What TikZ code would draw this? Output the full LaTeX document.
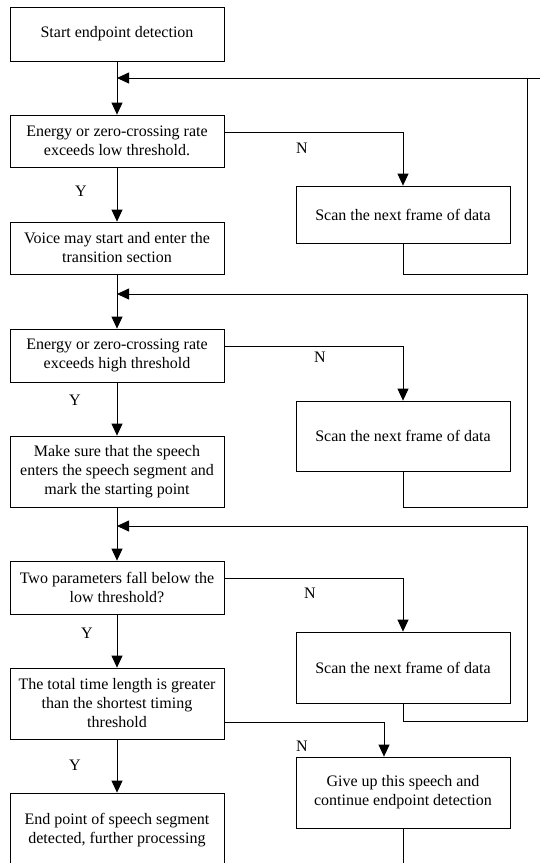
\documentclass[tikz,border=0pt]{standalone}
\usepackage{fontspec}
\setmainfont{Liberation Serif}
\usetikzlibrary{arrows.meta}
\begin{document}
\begin{tikzpicture}[x=1pt,y=-1pt,
  box/.style={draw, line width=0.8pt, minimum width=214pt, align=center, inner sep=0pt, font=\fontsize{16}{19}\selectfont},
  lbl/.style={font=\fontsize{16}{19}\selectfont, inner sep=0pt},
  conn/.style={line width=0.8pt},
  arr/.style={conn, -{Triangle[length=12pt,width=11pt]}}]
\useasboundingbox (0,0) rectangle (540,863);
\clip (0,0) rectangle (540,863);
% boxes
\node[box, minimum height=54pt] (b1) at (117,34) {Start endpoint detection};
\node[box, minimum height=52pt] (b2) at (117,141) {Energy or zero-crossing rate\\exceeds low threshold.};
\node[box, minimum height=57pt] (s1) at (403,214.5) {Scan the next frame of data};
\node[box, minimum height=52pt] (b3) at (117,248) {Voice may start and enter the\\transition section};
\node[box, minimum height=53pt] (b4) at (117,355.5) {Energy or zero-crossing rate\\exceeds high threshold};
\node[box, minimum height=70pt] (s2) at (403,436) {Scan the next frame of data};
\node[box, minimum height=71pt] (b5) at (117,471.5) {Make sure that the speech\\enters the speech segment and\\mark the starting point};
\node[box, minimum height=53pt] (b6) at (117,587.5) {Two parameters fall below the\\low threshold?};
\node[box, minimum height=71pt] (s3) at (403,667.5) {Scan the next frame of data};
\node[box, minimum height=71pt] (b7) at (117,703.5) {The total time length is greater\\than the shortest timing\\threshold};
\node[box, minimum height=71pt] (g) at (403,792.5) {Give up this speech and\\continue endpoint detection};
\node[box, minimum height=74pt] (b8) at (117,830) {End point of speech segment\\detected, further processing};
% junctions
\coordinate (j1) at (117,78);
\coordinate (j2) at (117,294);
\coordinate (j3) at (117,526);
\coordinate (r1) at (527,274);
\coordinate (r2) at (527,507);
\coordinate (r3) at (527,721);
\coordinate (e1) at (540,78);
\coordinate (endp) at (403,870);
% main column
\draw[arr] (b1) -- (b2);
\draw[arr] (b2) -- (b3);
\draw[arr] (b3) -- (b4);
\draw[arr] (b4) -- (b5);
\draw[arr] (b5) -- (b6);
\draw[arr] (b6) -- (b7);
\draw[arr] (b7) -- (b8);
% N branches
\draw[arr] ([yshift=9pt]b2.east) -| (s1.north);
\draw[arr] ([yshift=9.5pt]b4.east) -| (s2.north);
\draw[arr] ([yshift=9.5pt]b6.east) -| (s3.north);
\draw[arr] ([yshift=-18.5pt]b7.east) -| ([xshift=-19pt]g.north);
% loops back
\draw[arr] (s1.south) |- (r1) |- (j1);
\draw[conn] (r1 |- j1) -- (e1);
\draw[arr] (s2.south) |- (r2) |- (j2);
\draw[arr] (s3.south) |- (r3) |- (j3);
\draw[conn] (g.south) -- (endp);
% labels
\node[lbl] (y1) at (81,191) {Y};
\node[lbl] (y2) at (75,400) {Y};
\node[lbl] (y3) at (87,633) {Y};
\node[lbl] (y4) at (75,765) {Y};
\node[lbl] (n1) at (302,148) {N};
\node[lbl] (n2) at (320,357) {N};
\node[lbl] (n3) at (310,593) {N};
\node[lbl] (n4) at (302,746) {N};
\end{tikzpicture}
\end{document}
